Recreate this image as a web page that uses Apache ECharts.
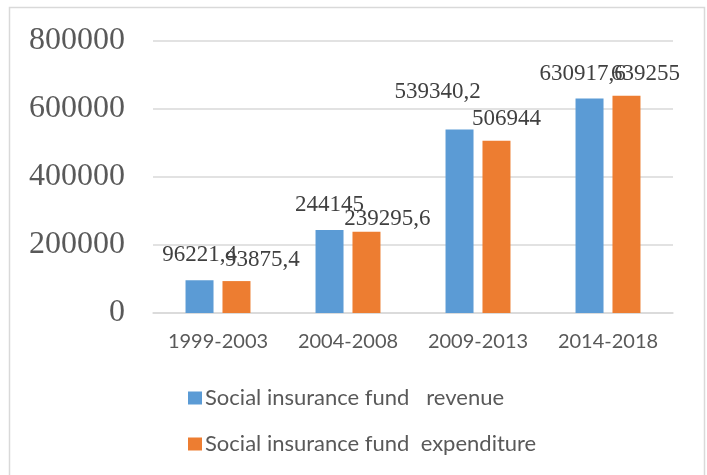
<!DOCTYPE html>
<html>
<head>
<meta charset="utf-8">
<script src="https://cdn.jsdelivr.net/npm/echarts@6/dist/echarts.min.js"></script>
<style>
html,body{margin:0;padding:0;background:#fff;}
#chart{width:707px;height:475px;}
</style>
</head>
<body>
<div id="chart"></div>
<script>
const categories = ['1999-2003', '2004-2008', '2009-2013', '2014-2018'];
const revenue = [96221.4, 244145, 539340.2, 630917.6];
const expenditure = [93875.4, 239295.6, 506944, 639255];
const revenueLabels = ['96221,4', '244145', '539340,2', '630917,6'];
const expenditureLabels = ['93875,4', '239295,6', '506944', '639255'];
const seriesNames = ['Social insurance fund   revenue', 'Social insurance fund  expenditure'];
const yTicks = [0, 200000, 400000, 600000, 800000];

// label nudges (style only, in pixels)
const revShift = [[0, -4], [0, -4], [-22, -16], [-7, -3]];
const expShift = [[26, 0], [21, 9], [10, 0], [19, 0]];

const chart = echarts.init(document.getElementById('chart'));
const labelFont = {fontFamily: 'Liberation Serif', fontSize: 23, color: '#404040'};

function makeData(vals, texts, shifts) {
  return vals.map((v, i) => ({
    value: v,
    label: {formatter: texts[i], offset: shifts[i]}
  }));
}

chart.setOption({
  animation: false,
  graphic: [{
    type: 'rect',
    shape: {x: 9.5, y: 7.5, width: 695, height: 480},
    style: {fill: 'none', stroke: '#d9d9d9', lineWidth: 1.5},
    silent: true
  }],
  grid: {left: 153, right: 34, top: 41, bottom: 162},
  legend: {
    orient: 'vertical',
    left: 183,
    top: 382,
    itemWidth: 14,
    itemHeight: 13,
    itemGap: 24,
    icon: 'rect',
    data: seriesNames,
    textStyle: {fontFamily: 'Lato', fontSize: 22, color: '#595959', padding: [0, 0, 0, -2]}
  },
  xAxis: {
    type: 'category',
    data: categories,
    axisLine: {lineStyle: {color: '#d9d9d9', width: 1.5}},
    axisTick: {show: false},
    axisLabel: {fontFamily: 'Lato', fontSize: 20, color: '#595959', margin: 19, interval: 0}
  },
  yAxis: {
    type: 'value',
    min: yTicks[0],
    max: yTicks[yTicks.length - 1],
    interval: yTicks[1] - yTicks[0],
    axisLine: {show: false},
    axisTick: {show: false},
    splitLine: {lineStyle: {color: '#d9d9d9', width: 1.5}},
    axisLabel: {fontFamily: 'Liberation Serif', fontSize: 32, color: '#595959', margin: 28,
      formatter: v => String(v)}
  },
  series: [
    {
      name: seriesNames[0],
      type: 'bar',
      data: makeData(revenue, revenueLabels, revShift),
      barWidth: 28,
      barGap: '32%',
      itemStyle: {color: '#5B9BD5'},
      label: Object.assign({show: true, position: 'top', distance: 10}, labelFont)
    },
    {
      name: seriesNames[1],
      type: 'bar',
      data: makeData(expenditure, expenditureLabels, expShift),
      barWidth: 28,
      itemStyle: {color: '#ED7D31'},
      label: Object.assign({show: true, position: 'top', distance: 10}, labelFont)
    }
  ]
});
</script>
</body>
</html>
